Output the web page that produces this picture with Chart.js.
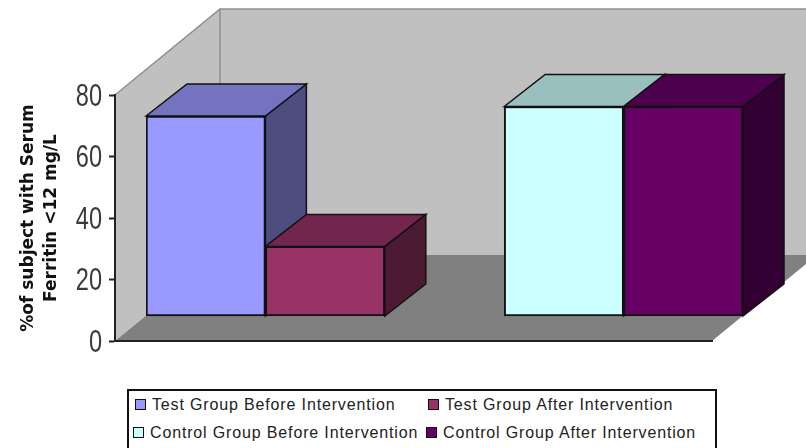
<!DOCTYPE html>
<html>
<head>
<meta charset="utf-8">
<script src="https://cdn.jsdelivr.net/npm/chart.js@4"></script>
<style>
	html, body { margin: 0; padding: 0; background: #fff; overflow: hidden; }
	#wrap { position: relative; width: 806px; height: 448px; overflow: hidden; }
	#myChart { position: absolute; left: 0; top: 0; filter: blur(0.4px); }
	#legend {
		position: absolute; left: 127px; top: 389px; width: 586px; height: 70px;
		border: 2px solid #111; background: #fff;
		font: 16px "Liberation Sans", sans-serif; color: #222; letter-spacing: 0.85px;
	}
	#legend div { position: absolute; white-space: nowrap; line-height: 20px; }
	#legend i { position: absolute; left: -17px; top: 4px; width: 9px; height: 9px; border: 1.5px solid #111; }
</style>
</head>
<body>
<div id="wrap">
	<canvas id="myChart" width="806" height="448"></canvas>
	<div id="legend"></div>
</div>
<script>
	// the gap between the two groups is an empty category
	var categories = ['Test Group Before Intervention', 'Test Group After Intervention', '', 'Control Group Before Intervention', 'Control Group After Intervention'];
	var values = [65.2, 22.8, null, 68.3, 68.3];
	var frontColors = ['#9999FF', '#993366', 'transparent', '#CCFFFF', '#660066'];
	var topColors = ['#7373BF', '#73264D', 'transparent', '#99BFBF', '#4D004D'];
	var sideColors = ['#4D4D80', '#4D1A33', 'transparent', '#668080', '#330033'];
	var yTicks = [0, 20, 40, 60, 80];
	var yTitle = ['%of subject with Serum', 'Ferritin <12 mg/L'];

	// 3d look: wall depth, bar position in depth, bar depth
	var wallDx = 105, wallDy = -86;
	var barShiftX = 31, barShiftY = -24.5;
	var barDx = 41, barDy = -32;

	var walls = {
		id : 'walls',
		beforeDraw : function(chart) {
			var ctx = chart.ctx;
			var x = chart.scales.x, y = chart.scales.y;
			var y0 = y.getPixelForValue(0), yTop = y.getPixelForValue(80);
			var x0 = x.left, x1 = x.right;

			ctx.save();
			// back wall and left wall
			poly(ctx, [[x0, yTop], [x0 + wallDx, yTop + wallDy], [x1 + wallDx + 20, yTop + wallDy], [x1 + wallDx + 20, y0 + wallDy], [x0 + wallDx, y0 + wallDy], [x0, y0]], '#C0C0C0');
			// floor
			poly(ctx, [[x0, y0], [x0 + wallDx, y0 + wallDy], [x1 + wallDx, y0 + wallDy], [x1, y0]], '#808080');
			// wall edges
			ctx.strokeStyle = '#8E8E8E';
			ctx.lineWidth = 1.5;
			ctx.beginPath();
			ctx.moveTo(x0, yTop);
			ctx.lineTo(x0 + wallDx, yTop + wallDy);
			ctx.lineTo(x1 + wallDx + 20, yTop + wallDy);
			ctx.moveTo(x0 + wallDx, yTop + wallDy);
			ctx.lineTo(x0 + wallDx, y0 + wallDy);
			ctx.stroke();
			ctx.restore();
		},
		beforeDatasetDraw : function(chart) {
			var ctx = chart.ctx;
			var bars = chart.getDatasetMeta(0).data;

			ctx.save();
			ctx.translate(barShiftX, barShiftY);
			// side and top faces, the library draws the fronts afterwards
			bars.forEach(function(bar, i) {
				if (values[i] === null) return;
				var p = bar.getProps(['x', 'y', 'base', 'width'], true);
				var l = p.x - p.width / 2, r = p.x + p.width / 2;
				poly(ctx, [[r, p.y], [r + barDx, p.y + barDy], [r + barDx, p.base + barDy], [r, p.base]], sideColors[i], true);
				poly(ctx, [[l, p.y], [l + barDx, p.y + barDy], [r + barDx, p.y + barDy], [r, p.y]], topColors[i], true);
			});
		},
		afterDatasetDraw : function(chart) {
			chart.ctx.restore();
		},
		// tick labels are squeezed sideways, no narrow font is installed
		afterDraw : function(chart) {
			var ctx = chart.ctx;
			var y = chart.scales.y;
			yTicks.forEach(function(v) {
				ctx.save();
				ctx.translate(y.right - 13, y.getPixelForValue(v) + 2);
				ctx.scale(0.76, 1);
				ctx.font = '31px "Liberation Sans"';
				ctx.fillStyle = '#3A3A3A';
				ctx.textAlign = 'right';
				ctx.textBaseline = 'middle';
				ctx.fillText(String(v), 0, 0);
				ctx.restore();
			});
		},
	};

	function poly(ctx, pts, fill, outline) {
		ctx.beginPath();
		pts.forEach(function(p, i) {
			if (i == 0) ctx.moveTo(p[0], p[1]);
			else ctx.lineTo(p[0], p[1]);
		});
		ctx.closePath();
		ctx.fillStyle = fill;
		ctx.fill();
		if (outline) {
			ctx.strokeStyle = '#111';
			ctx.lineWidth = 1.5;
			ctx.stroke();
		}
	}

	const config = {
		type : 'bar',
		data : {
			labels : categories,
			datasets : [ {
				data : values,
				backgroundColor : frontColors,
				borderColor : '#111',
				borderWidth : 2,
				borderSkipped : false,
				barPercentage : 1,
				categoryPercentage : 1,
			} ]
		},
		plugins : [ walls ],
		options : {
			responsive : false,
			animation : false,
			layout : {
				padding : { top : 95, right : 94, bottom : 107, left : 0 },
			},
			plugins : {
				legend : { display : false },
				tooltip : { enabled : false },
			},
			scales : {
				x : {
					afterFit : function(scale) { scale.height = 0; },
					ticks : { display : false },
					grid : { display : false },
					border : { color : '#222', width : 2 },
				},
				y : {
					min : 0,
					max : 80,
					afterFit : function(scale) { scale.width = 115; },
					afterBuildTicks : function(scale) {
						scale.ticks = yTicks.map(function(v) { return { value : v }; });
					},
					ticks : { display : false },
					grid : { drawOnChartArea : false, tickLength : 6, tickColor : '#222', tickWidth : 2 },
					border : { color : '#222', width : 2 },
					title : {
						display : true,
						text : yTitle,
						color : '#111',
						padding : { top : 18, bottom : 0 },
						font : { family : '"DejaVu Sans"', size : 17, weight : 'bold', lineHeight : 1.3 },
					},
				},
			},
		},
	};

	var myChart = new Chart(document.getElementById('myChart'), config);

	// legend box, two rows in two columns
	var legendBox = document.getElementById('legend');
	var legendSlots = [ [0, 23, 4], [1, 316, 4], [3, 21, 32], [4, 314, 32] ];
	legendSlots.forEach(function(s) {
		var item = document.createElement('div');
		var swatch = document.createElement('i');
		swatch.style.background = frontColors[s[0]];
		item.appendChild(swatch);
		item.appendChild(document.createTextNode(categories[s[0]]));
		item.style.left = s[1] + 'px';
		item.style.top = s[2] + 'px';
		legendBox.appendChild(item);
	});
</script>
</body>
</html>
